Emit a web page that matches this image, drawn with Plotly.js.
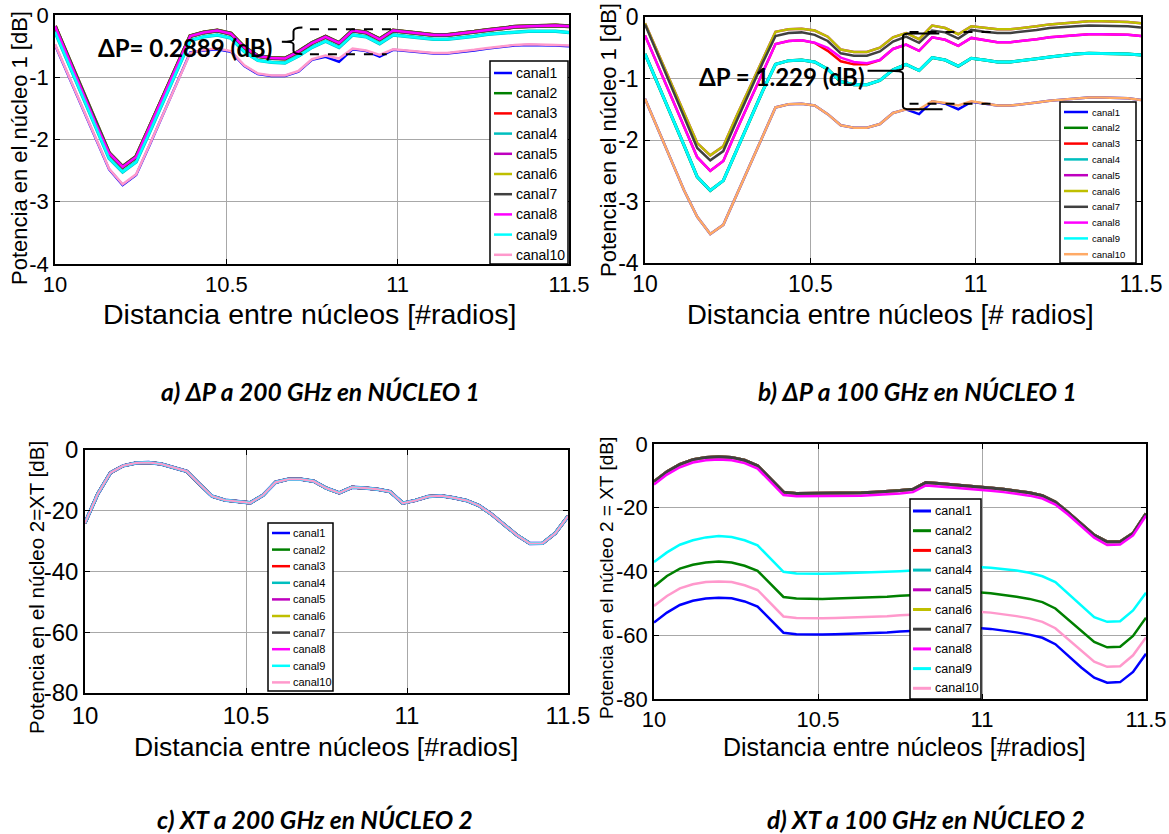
<!DOCTYPE html>
<html>
<head>
<meta charset="utf-8">
<script src="https://cdn.plot.ly/plotly-3.0.1.min.js"></script>
<style>html,body{margin:0;padding:0;background:#fff}#chart{width:1169px;height:834px}</style>
</head>
<body>
<div id="chart"></div>
<script>
// ---------- DATA ----------
const distancia = [10, 10.0395, 10.0789, 10.1184, 10.1579, 10.1974, 10.2368, 10.2763, 10.3158, 10.3553,
  10.3947, 10.4342, 10.4737, 10.5132, 10.5526, 10.5921, 10.6316, 10.6711, 10.7105, 10.75,
  10.7895, 10.8289, 10.8684, 10.9079, 10.9474, 10.9868, 11.0263, 11.0658, 11.1053, 11.1447,
  11.1842, 11.2237, 11.2632, 11.3026, 11.3421, 11.3816, 11.4211, 11.4605, 11.5];

const canales = ['canal1','canal2','canal3','canal4','canal5','canal6','canal7','canal8','canal9','canal10'];
const xTicks = [10, 10.5, 11, 11.5];
const xTickText = ['10', '10.5', '11', '11.5'];
const yTicksP = [0, -1, -2, -3, -4];
const yTickTextP = ['0', '-1', '-2', '-3', '-4'];
const yTicksXT = [0, -20, -40, -60, -80];
const yTickTextXT = ['0', '-20', '-40', '-60', '-80'];

// (a) potencia núcleo 1, 200 GHz
const aSuperior = [-0.18,-0.70,-1.22,-1.74,-2.22,-2.44,-2.28,-1.80,-1.31,-0.83,
  -0.34,-0.28,-0.25,-0.30,-0.52,-0.66,-0.69,-0.70,-0.59,-0.45,
  -0.35,-0.45,-0.25,-0.28,-0.39,-0.25,-0.27,-0.30,-0.32,-0.32,
  -0.30,-0.27,-0.24,-0.21,-0.19,-0.18,-0.17,-0.17,-0.18];
const aCian = [-0.27,-0.78,-1.30,-1.82,-2.30,-2.52,-2.36,-1.88,-1.39,-0.91,
  -0.41,-0.35,-0.32,-0.37,-0.59,-0.73,-0.76,-0.77,-0.66,-0.52,
  -0.42,-0.52,-0.32,-0.35,-0.46,-0.32,-0.34,-0.37,-0.39,-0.39,
  -0.37,-0.34,-0.31,-0.29,-0.27,-0.26,-0.26,-0.26,-0.28];
const aAzul = [-0.48,-0.98,-1.49,-2.00,-2.48,-2.73,-2.57,-2.09,-1.60,-1.10,
  -0.60,-0.57,-0.55,-0.59,-0.82,-0.95,-0.98,-0.98,-0.91,-0.72,
  -0.67,-0.75,-0.55,-0.58,-0.67,-0.56,-0.58,-0.61,-0.62,-0.62,
  -0.60,-0.57,-0.54,-0.51,-0.49,-0.48,-0.48,-0.49,-0.50];
const aRosa = [-0.47,-0.97,-1.48,-1.99,-2.47,-2.72,-2.56,-2.08,-1.59,-1.09,
  -0.61,-0.56,-0.54,-0.58,-0.81,-0.94,-0.97,-0.97,-0.90,-0.71,
  -0.65,-0.70,-0.54,-0.57,-0.64,-0.55,-0.57,-0.60,-0.61,-0.61,
  -0.59,-0.56,-0.53,-0.50,-0.48,-0.47,-0.47,-0.48,-0.49];

// (b) potencia núcleo 1, 100 GHz
const bOliva = [-0.10,-0.59,-1.08,-1.57,-2.05,-2.25,-2.10,-1.62,-1.15,-0.68,
  -0.24,-0.20,-0.19,-0.22,-0.32,-0.53,-0.57,-0.57,-0.50,-0.33,
  -0.26,-0.36,-0.14,-0.18,-0.28,-0.15,-0.18,-0.20,-0.20,-0.18,
  -0.15,-0.12,-0.10,-0.08,-0.07,-0.07,-0.07,-0.08,-0.10];
const bGris = [-0.12,-0.63,-1.14,-1.64,-2.13,-2.33,-2.18,-1.70,-1.22,-0.75,
  -0.31,-0.26,-0.25,-0.29,-0.39,-0.59,-0.63,-0.63,-0.56,-0.40,
  -0.32,-0.42,-0.22,-0.25,-0.35,-0.21,-0.24,-0.26,-0.26,-0.24,
  -0.21,-0.18,-0.16,-0.15,-0.14,-0.14,-0.14,-0.15,-0.17];
const bRojo = [-0.30,-0.79,-1.29,-1.79,-2.28,-2.50,-2.34,-1.85,-1.37,-0.90,
  -0.44,-0.39,-0.38,-0.42,-0.55,-0.72,-0.77,-0.77,-0.70,-0.52,
  -0.45,-0.55,-0.33,-0.37,-0.47,-0.34,-0.38,-0.41,-0.41,-0.39,
  -0.36,-0.33,-0.31,-0.29,-0.28,-0.28,-0.28,-0.29,-0.31];
const bMagenta = [-0.30,-0.79,-1.29,-1.79,-2.28,-2.50,-2.34,-1.85,-1.37,-0.90,
  -0.44,-0.39,-0.38,-0.42,-0.50,-0.66,-0.73,-0.75,-0.70,-0.52,
  -0.45,-0.55,-0.33,-0.37,-0.47,-0.34,-0.38,-0.41,-0.41,-0.39,
  -0.36,-0.33,-0.31,-0.29,-0.28,-0.28,-0.28,-0.29,-0.31];
const bCian = [-0.60,-1.09,-1.59,-2.09,-2.60,-2.82,-2.66,-2.17,-1.69,-1.21,
  -0.77,-0.71,-0.70,-0.73,-0.85,-1.05,-1.10,-1.10,-1.03,-0.86,
  -0.77,-0.87,-0.66,-0.70,-0.80,-0.67,-0.70,-0.73,-0.73,-0.71,
  -0.68,-0.65,-0.62,-0.60,-0.59,-0.59,-0.59,-0.60,-0.62];
const bAzul = [-1.33,-1.82,-2.32,-2.82,-3.25,-3.53,-3.38,-2.90,-2.42,-1.95,
  -1.47,-1.42,-1.41,-1.44,-1.58,-1.76,-1.80,-1.80,-1.74,-1.56,
  -1.50,-1.58,-1.37,-1.41,-1.50,-1.38,-1.41,-1.44,-1.44,-1.42,
  -1.39,-1.36,-1.34,-1.32,-1.31,-1.31,-1.31,-1.32,-1.35];
const bNaranja = [-1.33,-1.82,-2.32,-2.82,-3.25,-3.53,-3.38,-2.90,-2.42,-1.95,
  -1.47,-1.42,-1.41,-1.44,-1.58,-1.76,-1.80,-1.80,-1.74,-1.56,
  -1.50,-1.50,-1.37,-1.40,-1.44,-1.37,-1.41,-1.44,-1.44,-1.42,
  -1.39,-1.36,-1.34,-1.32,-1.31,-1.31,-1.31,-1.32,-1.35];

// (c) XT núcleo 2, 200 GHz (all channels overlap)
const cXT = [-24.0,-14.5,-7.5,-5.2,-4.3,-4.1,-4.6,-5.7,-7.0,-11.2,
  -15.2,-16.5,-17.0,-17.4,-14.9,-10.6,-9.6,-9.6,-10.3,-12.6,
  -14.1,-12.3,-12.5,-12.9,-13.7,-17.5,-16.6,-15.3,-15.1,-15.7,
  -16.6,-18.3,-21.2,-24.5,-28.1,-30.8,-30.7,-27.4,-21.8];

// (d) XT núcleo 2, 100 GHz
const dSuperior = [-11.8,-8.7,-6.4,-4.9,-4.2,-4.0,-4.2,-5.1,-6.8,-11.0,
  -15.1,-15.5,-15.5,-15.5,-15.5,-15.4,-15.3,-15.1,-14.9,-14.6,
  -14.2,-12.1,-12.4,-12.7,-13.0,-13.4,-13.8,-14.2,-14.7,-15.3,
  -16.2,-18.2,-21.5,-25.2,-28.6,-30.7,-30.7,-28.0,-21.8];
const dMagenta = [-12.7,-9.6,-7.3,-5.8,-5.1,-4.9,-5.1,-6.0,-7.7,-11.9,
  -16.0,-16.4,-16.4,-16.4,-16.4,-16.3,-16.2,-16.0,-15.8,-15.5,
  -15.1,-13.0,-13.3,-13.6,-13.9,-14.3,-14.7,-15.1,-15.6,-16.2,
  -17.1,-19.0,-22.2,-25.9,-29.4,-31.7,-31.5,-28.7,-22.5];
const dCian = [-37.0,-34.0,-31.6,-30.2,-29.3,-28.9,-29.2,-30.2,-31.8,-36.0,
  -40.1,-40.6,-40.7,-40.7,-40.6,-40.5,-40.4,-40.3,-40.1,-39.9,
  -39.7,-39.4,-39.2,-39.0,-38.8,-38.6,-38.8,-39.2,-39.7,-40.4,
  -41.5,-43.3,-47.0,-50.8,-54.3,-55.8,-55.6,-52.2,-46.7];
const dVerde = [-44.7,-41.4,-39.1,-37.9,-37.2,-36.9,-37.2,-38.2,-39.8,-44.0,
  -48.0,-48.5,-48.6,-48.6,-48.5,-48.4,-48.3,-48.1,-47.9,-47.6,
  -47.4,-47.1,-46.9,-46.7,-46.6,-46.5,-46.8,-47.3,-47.9,-48.6,
  -49.6,-51.6,-55.2,-58.8,-62.1,-63.8,-63.6,-60.2,-54.5];
const dRosa = [-50.8,-47.7,-45.3,-44.0,-43.3,-43.1,-43.3,-44.3,-45.8,-50.0,
  -54.1,-54.6,-54.7,-54.7,-54.6,-54.5,-54.4,-54.2,-54.0,-53.7,
  -53.5,-53.2,-53.0,-52.8,-52.7,-52.6,-52.9,-53.4,-54.0,-54.7,
  -55.8,-57.8,-61.4,-65.0,-68.3,-69.9,-69.7,-66.3,-60.7];
const dAzul = [-56.0,-52.9,-50.5,-49.2,-48.5,-48.2,-48.4,-49.4,-51.0,-55.1,
  -59.2,-59.7,-59.8,-59.8,-59.7,-59.6,-59.5,-59.3,-59.1,-58.8,
  -58.6,-58.3,-58.1,-57.9,-57.8,-57.7,-58.0,-58.5,-59.1,-59.8,
  -60.8,-62.8,-66.5,-70.1,-73.3,-74.9,-74.7,-71.5,-65.8];

// ---------- STYLE ----------
const W = 1169, H = 834;
const PX = x => x / W, PY = y => 1 - y / H;
const colores  = ['#0000FF','#008000','#FF0000','#00BFBF','#BF00BF','#BFBF00','#404040','#FF00FF','#00FFFF','#FF99CC'];
const coloresB = ['#0000FF','#008000','#FF0000','#00BFBF','#BF00BF','#BFBF00','#404040','#FF00FF','#00FFFF','#FFAA66'];
const SANS = 'Liberation Sans, Arial, sans-serif';
const CAL = 'Lato, Open Sans, sans-serif';

const paneles = [
  {xa:'x',  ya:'y',  series:[aAzul,aSuperior,aSuperior,aCian,aSuperior,aSuperior,aSuperior,aSuperior,aCian,aRosa],
   anchos:[2.5,3.5,3.5,3.5,3.5,4,4,2.5,2.5,2.5], col:colores},
  {xa:'x2', ya:'y2', series:[bAzul,bCian,bRojo,bCian,bOliva,bOliva,bGris,bMagenta,bCian,bNaranja],
   anchos:[2.5,3,2.5,3,2.5,2.5,2.5,2.5,2.5,2.5], col:coloresB},
  {xa:'x3', ya:'y3', series:[cXT,cXT,cXT,cXT,cXT,cXT,cXT,cXT,cXT,cXT],
   anchos:[3.5,3,3,3,3,3,3,3,3,2], col:colores},
  {xa:'x4', ya:'y4', series:[dAzul,dVerde,dSuperior,dSuperior,dSuperior,dSuperior,dSuperior,dMagenta,dCian,dRosa],
   anchos:[2.5,2.5,3,3,3,3,3,2.5,2.5,2.5], col:colores}
];

const traces = [];
paneles.forEach(p => {
  canales.forEach((nombre, i) => {
    traces.push({type:'scatter', mode:'lines', name:nombre, x:distancia, y:p.series[i],
      xaxis:p.xa, yaxis:p.ya, line:{color:p.col[i], width:p.anchos[i]}, hoverinfo:'skip'});
  });
});

function ejeX(dom, anchor, fs) {
  return {domain:[PX(dom[0]), PX(dom[1])], anchor:anchor, range:[10, 11.5],
    tickmode:'array', tickvals:xTicks, ticktext:xTickText, ticklabeloverflow:'allow',
    showgrid:true, gridcolor:'#a8a8a8', gridwidth:1, zeroline:false,
    showline:true, linecolor:'#000', linewidth:1.8, mirror:'ticks',
    ticks:'inside', ticklen:5, tickwidth:1, tickcolor:'#000',
    tickfont:{family:SANS, size:fs, color:'#000'}, fixedrange:true};
}
function ejeY(dom, anchor, rng, vals, txt, fs) {
  return {domain:[PY(dom[1]), PY(dom[0])], anchor:anchor, range:rng,
    tickmode:'array', tickvals:vals, ticktext:txt, ticklabeloverflow:'allow',
    showgrid:true, gridcolor:'#a8a8a8', gridwidth:1, zeroline:false,
    showline:true, linecolor:'#000', linewidth:1.8, mirror:'ticks',
    ticks:'inside', ticklen:5, tickwidth:1, tickcolor:'#000',
    tickfont:{family:SANS, size:fs, color:'#000'}, fixedrange:true};
}

const annotations = [];
const shapes = [];

function textoPx(t, x, y, size, opts) {
  annotations.push(Object.assign({text:t, xref:'paper', yref:'paper', x:PX(x), y:PY(y),
    xanchor:'center', yanchor:'middle', showarrow:false, borderpad:0,
    font:{family:SANS, size:size, color:'#000'}}, opts || {}));
}

// axis titles
textoPx('Distancia entre núcleos [#radios]', 310, 314, 28.5);
textoPx('Distancia entre núcleos [# radios]', 891, 314, 27.5);
textoPx('Distancia entre núcleos [#radios]', 326, 747, 26.5);
textoPx('Distancia entre núcleos [#radios]', 904, 747, 25);
textoPx('Potencia en el núcleo 1 [dB]', 19, 148, 22, {textangle:-90});
textoPx('Potencia en el núcleo 1 [dB]', 608, 140, 22, {textangle:-90});
textoPx('Potencia en el núcleo 2=XT [dB]', 36, 588, 20.5, {textangle:-90});
textoPx('Potencia en el núcleo 2 = XT [dB]', 606, 578, 19, {textangle:-90});

// captions
const capFont = {family:CAL, size:24.5, color:'#000', weight:'bold', style:'italic'};
textoPx('a) ΔP a 200 GHz en NÚCLEO 1', 320, 392, 24.5, {font:capFont});
textoPx('b) ΔP a 100 GHz en NÚCLEO 1', 917, 392, 24.5, {font:capFont});
textoPx('c) XT a 200 GHz en NÚCLEO 2', 315, 819, 24.5, {font:capFont});
textoPx('d) XT a 100 GHz en NÚCLEO 2', 926, 819, 24.5, {font:capFont});

// ΔP annotations
const dpFont = {family:CAL, size:24, color:'#000', weight:'bold'};
textoPx('ΔP= 0.2889 (dB)', 185, 48, 24, {font:dpFont});
textoPx('ΔP = 1.229 (dB)', 781, 77, 24, {font:dpFont});

// braces and dashed guides (data coordinates)
shapes.push({type:'path', xref:'x', yref:'y', layer:'above', line:{color:'#000', width:2},
  path:'M 10.722,-0.20 Q 10.696,-0.20 10.696,-0.26 L 10.696,-0.39 Q 10.696,-0.43 10.662,-0.43 Q 10.696,-0.43 10.696,-0.47 L 10.696,-0.58 Q 10.696,-0.63 10.722,-0.63'});
shapes.push({type:'line', xref:'x', yref:'y', layer:'above', x0:10.744, x1:10.99, y0:-0.23, y1:-0.23, line:{color:'#000', width:2, dash:'dash'}});
shapes.push({type:'line', xref:'x', yref:'y', layer:'above', x0:10.744, x1:10.968, y0:-0.63, y1:-0.63, line:{color:'#000', width:2, dash:'dash'}});
shapes.push({type:'path', xref:'x2', yref:'y2', layer:'above', line:{color:'#000', width:2},
  path:'M 10.89,-0.27 L 10.80,-0.27 Q 10.78,-0.27 10.78,-0.32 L 10.78,-0.83 Q 10.78,-0.875 10.74,-0.875 L 10.673,-0.875 M 10.74,-0.875 Q 10.78,-0.875 10.78,-0.92 L 10.78,-1.45 Q 10.78,-1.50 10.80,-1.50 L 10.90,-1.50'});
shapes.push({type:'line', xref:'x2', yref:'y2', layer:'above', x0:10.80, x1:11.055, y0:-0.245, y1:-0.245, line:{color:'#000', width:2, dash:'dash'}});
shapes.push({type:'line', xref:'x2', yref:'y2', layer:'above', x0:10.80, x1:11.055, y0:-1.41, y1:-1.41, line:{color:'#000', width:2, dash:'dash'}});

// legends (boxes drawn as shapes, labels as text)
const leyendas = [
  {box:[490,568,61,264], ln:[494,512], tx:515, y0:73, dy:20.2, fs:14, lw:2.5, col:colores},
  {box:[1060,1136,102,263], ln:[1064,1088], tx:1091, y0:112, dy:15.8, fs:9.5, lw:2.5, col:coloresB},
  {box:[268,333,523,691], ln:[272,290], tx:292, y0:533, dy:16.6, fs:11, lw:2.5, col:colores},
  {box:[910,981,499,699], ln:[913,931], tx:934, y0:511, dy:19.7, fs:12.5, lw:3, col:colores}
];
leyendas.forEach(L => {
  shapes.push({type:'rect', xref:'paper', yref:'paper', layer:'above',
    x0:PX(L.box[0]), x1:PX(L.box[1]), y0:PY(L.box[3]), y1:PY(L.box[2]),
    fillcolor:'#fff', line:{color:'#000', width:1.5}});
  canales.forEach((nombre, i) => {
    const yy = L.y0 + i * L.dy;
    shapes.push({type:'line', xref:'paper', yref:'paper', layer:'above',
      x0:PX(L.ln[0]), x1:PX(L.ln[1]), y0:PY(yy), y1:PY(yy), line:{color:L.col[i], width:L.lw}});
    annotations.push({text:nombre, xref:'paper', yref:'paper', x:PX(L.tx), y:PY(yy),
      xanchor:'left', yanchor:'middle', showarrow:false, borderpad:0,
      font:{family:SANS, size:L.fs, color:'#000'}});
  });
});

const layout = {
  width:W, height:H, margin:{l:0, r:0, t:0, b:0},
  paper_bgcolor:'#fff', plot_bgcolor:'#fff', showlegend:false,
  xaxis:  ejeX([55,569], 'y', 22),
  yaxis:  ejeY([15,264], 'x', [-4,0], yTicksP, yTickTextP, 22),
  xaxis2: ejeX([645,1141], 'y2', 23),
  yaxis2: ejeY([17,263], 'x2', [-4,0], yTicksP, yTickTextP, 23),
  xaxis3: ejeX([85,568], 'y3', 24),
  yaxis3: ejeY([450,693], 'x3', [-80,0], yTicksXT, yTickTextXT, 24),
  xaxis4: ejeX([654,1146], 'y4', 22),
  yaxis4: ejeY([444,699], 'x4', [-80,0], yTicksXT, yTickTextXT, 22),
  annotations:annotations, shapes:shapes
};

Plotly.newPlot('chart', traces, layout, {staticPlot:true, displayModeBar:false});
</script>
</body>
</html>
